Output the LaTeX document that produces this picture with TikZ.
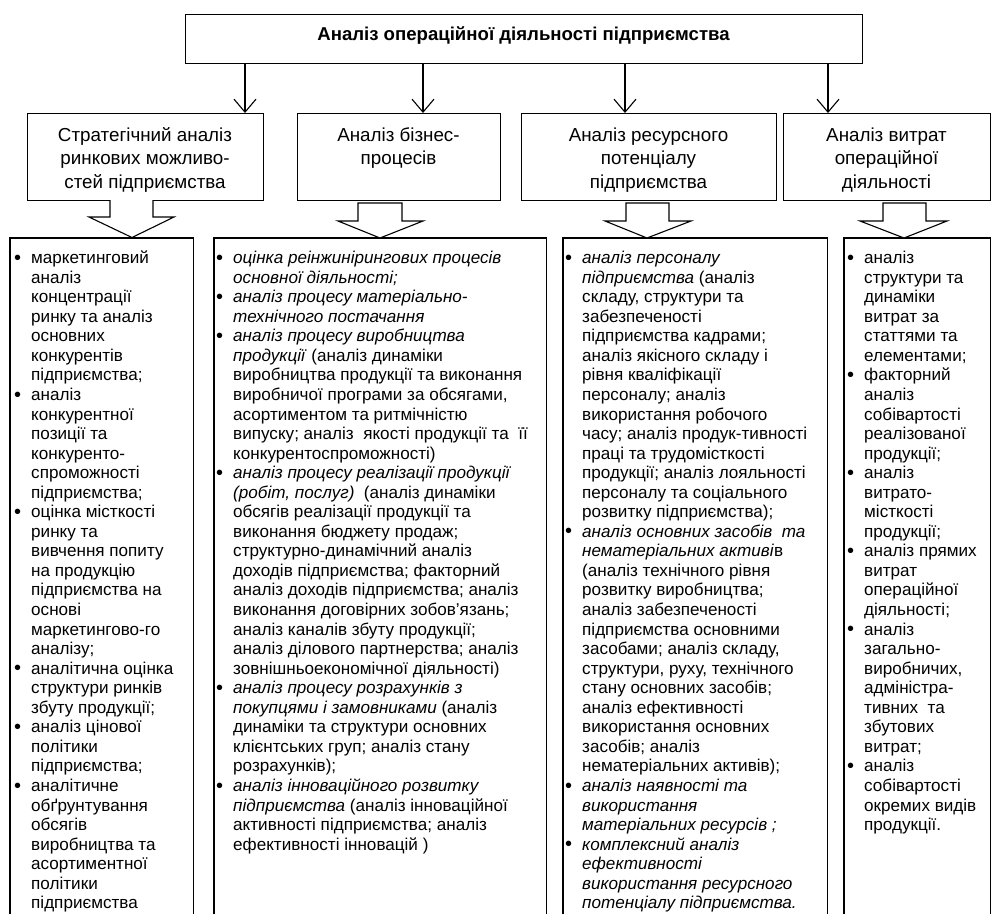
\documentclass[tikz,border=0pt]{standalone}
\usepackage{fontspec}
\setmainfont{Liberation Sans}
\usetikzlibrary{arrows.meta}
\newcommand{\bul}{\llap{\raisebox{-0.6pt}{\fontsize{20}{19.55}\selectfont\textbullet}\hspace{10pt}}}
\begin{document}
\begin{tikzpicture}[x=1pt,y=-1pt,
  box/.style={draw, line width=1.1pt, inner sep=0pt, anchor=north west},
  openbox/.style={draw=none, inner sep=0pt, anchor=north west},
  edge3/.style={line width=1.1pt},
  conn/.style={line width=1.1pt, -{Straight Barb[length=13pt,width=22pt,line width=1.1pt]}},
  blockarrow/.style={draw, line width=1.1pt, fill=white, line join=miter},
  titletext/.style={anchor=center, inner sep=0pt, font=\bfseries\fontsize{18.6}{21}\selectfont},
  hdrtext/.style={anchor=north, align=center, inner sep=0pt, font=\fontsize{18.8}{23.5}\selectfont},
  coltext/.style={anchor=north west, align=left, inner sep=0pt, font=\fontsize{17.1}{19.55}\selectfont}]
\useasboundingbox (0,0) rectangle (992,914);
\fill[white] (0,0) rectangle (992,914);

% top box
\node[box, minimum width=677pt, minimum height=49pt] (top) at (185,14) {};
\node[titletext] (title) at (523.5,36) {Аналіз операційної діяльності підприємства};

% header boxes
\node[box, minimum width=236pt, minimum height=87pt] (h1) at (27,113) {};
\node[box, minimum width=203pt, minimum height=87pt] (h2) at (297,113) {};
\node[box, minimum width=255pt, minimum height=87pt] (h3) at (521,113) {};
\node[box, minimum width=207pt, minimum height=87pt] (h4) at (783,113) {};

\node[hdrtext] (ht1) at (145,124.5) {\strut Стратегічний аналіз\\ринкових можливо-\\стей підприємства};
\node[hdrtext] (ht2) at (398.5,124.5) {\strut Аналіз бізнес-\\процесів};
\node[hdrtext] (ht3) at (648.5,124.5) {\strut Аналіз ресурсного\\потенціалу\\підприємства};
\node[hdrtext] (ht4) at (886.5,124.5) {\strut Аналіз витрат\\операційної\\діяльності};

% connectors from top box
\coordinate (ax1) at (245,0);
\coordinate (ax2) at (423,0);
\coordinate (ax3) at (625,0);
\coordinate (ax4) at (828,0);
\draw[conn] (top.south -| ax1) -- (h1.north -| ax1);
\draw[conn] (top.south -| ax2) -- (h2.north -| ax2);
\draw[conn] (top.south -| ax3) -- (h3.north -| ax3);
\draw[conn] (top.south -| ax4) -- (h4.north -| ax4);

% content boxes (open at the bottom)
\node[openbox, minimum width=183pt, minimum height=676pt] (c1) at (10,238) {};
\node[openbox, minimum width=332pt, minimum height=676pt] (c2) at (214,238) {};
\node[openbox, minimum width=264pt, minimum height=676pt] (c3) at (563,238) {};
\node[openbox, minimum width=146pt, minimum height=676pt] (c4) at (844,238) {};
\draw[edge3] (c1.south west) -- (c1.north west) -- (c1.north east) -- (c1.south east);
\draw[edge3] (c2.south west) -- (c2.north west) -- (c2.north east) -- (c2.south east);
\draw[edge3] (c3.south west) -- (c3.north west) -- (c3.north east) -- (c3.south east);
\draw[edge3] (c4.south west) -- (c4.north west) -- (c4.north east) -- (c4.south east);

% block arrows
\draw[blockarrow] (110,200) -- (110,217) -- (89,217) -- (132,237.5) -- (174,217) -- (153,217) -- (153,200);
\draw[blockarrow] (358,203) -- (358,221) -- (338,221) -- (380,238) -- (423,221) -- (402,221) -- (402,203) -- cycle;
\draw[blockarrow] (626,203) -- (626,221) -- (605,221) -- (647,238) -- (691,221) -- (669,221) -- (669,203) -- cycle;
\draw[blockarrow] (883,203) -- (883,221) -- (860,221) -- (904,238) -- (947,221) -- (926,221) -- (926,203) -- cycle;

% column texts
\node[coltext] (t1) at (31,249.7) {\strut\bul маркетинговий\\
аналіз\\
концентрації\\
ринку та аналіз\\
основних\\
конкурентів\\
підприємства;\\
\bul аналіз\\
конкурентної\\
позиції та\\
конкуренто-\\
спроможності\\
підприємства;\\
\bul оцінка місткості\\
ринку та\\
вивчення попиту\\
на продукцію\\
підприємства на\\
основі\\
маркетингово-го\\
аналізу;\\
\bul аналітична оцінка\\
структури ринків\\
збуту продукції;\\
\bul аналіз цінової\\
політики\\
підприємства;\\
\bul аналітичне\\
обґрунтування\\
обсягів\\
виробництва та\\
асортиментної\\
політики\\
підприємства};

\node[coltext] (t2) at (233,249.7) {\strut\bul \textit{оцінка реінжинірингових процесів}\\
\textit{основної діяльності;}\\
\bul \textit{аналіз процесу матеріально-}\\
\textit{технічного постачання}\\
\bul \textit{аналіз процесу виробництва}\\
\textit{продукції} (аналіз динаміки\\
виробництва продукції та виконання\\
виробничої програми за обсягами,\\
асортиментом та ритмічністю\\
випуску; аналіз\ \ якості продукції та\ \ її\\
конкурентоспроможності)\\
\bul \textit{аналіз процесу реалізації продукції}\\
\textit{(робіт, послуг)}\ \ (аналіз динаміки\\
обсягів реалізації продукції та\\
виконання бюджету продаж;\\
структурно-динамічний аналіз\\
доходів підприємства; факторний\\
аналіз доходів підприємства; аналіз\\
виконання договірних зобов’язань;\\
аналіз каналів збуту продукції;\\
аналіз ділового партнерства; аналіз\\
зовнішньоекономічної діяльності)\\
\bul \textit{аналіз процесу розрахунків з}\\
\textit{покупцями і замовниками} (аналіз\\
динаміки та структури основних\\
клієнтських груп; аналіз стану\\
розрахунків);\\
\bul \textit{аналіз інноваційного розвитку}\\
\textit{підприємства} (аналіз інноваційної\\
активності підприємства; аналіз\\
ефективності інновацій )};

\node[coltext] (t3) at (582,249.7) {\strut\bul \textit{аналіз персоналу}\\
\textit{підприємства} (аналіз\\
складу, структури та\\
забезпеченості\\
підприємства кадрами;\\
аналіз якісного складу і\\
рівня кваліфікації\\
персоналу; аналіз\\
використання робочого\\
часу; аналіз продук-тивності\\
праці та трудомісткості\\
продукції; аналіз лояльності\\
персоналу та соціального\\
розвитку підприємства);\\
\bul \textit{аналіз основних засобів\ \ та}\\
\textit{нематеріальних активі}в\\
(аналіз технічного рівня\\
розвитку виробництва;\\
аналіз забезпеченості\\
підприємства основними\\
засобами; аналіз складу,\\
структури, руху, технічного\\
стану основних засобів;\\
аналіз ефективності\\
використання основних\\
засобів; аналіз\\
нематеріальних активів);\\
\bul \textit{аналіз наявності та}\\
\textit{використання}\\
\textit{матеріальних ресурсів ;}\\
\bul \textit{комплексний аналіз}\\
\textit{ефективності}\\
\textit{використання ресурсного}\\
\textit{потенціалу підприємства.}};

\node[coltext] (t4) at (864,249.7) {\strut\bul аналіз\\
структури та\\
динаміки\\
витрат за\\
статтями та\\
елементами;\\
\bul факторний\\
аналіз\\
собівартості\\
реалізованої\\
продукції;\\
\bul аналіз\\
витрато-\\
місткості\\
продукції;\\
\bul аналіз прямих\\
витрат\\
операційної\\
діяльності;\\
\bul аналіз\\
загально-\\
виробничих,\\
адміністра-\\
тивних\ \ та\\
збутових\\
витрат;\\
\bul аналіз\\
собівартості\\
окремих видів\\
продукції.};
\end{tikzpicture}
\end{document}
